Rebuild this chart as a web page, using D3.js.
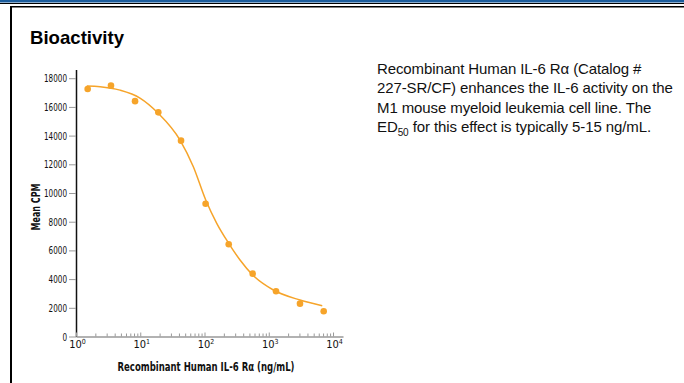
<!DOCTYPE html>
<meta charset="utf-8">
<script src="https://cdn.jsdelivr.net/npm/d3@7"></script>
<style>
body { margin: 0; background: #fff; }
.axis text { font-family: "Liberation Sans Narrow", "DejaVu Sans Condensed", sans-serif; font-size: 11px; fill: #111; }
.ytitle, .xtitle { font-family: "Liberation Sans Narrow", "DejaVu Sans Condensed", sans-serif; font-weight: bold; font-size: 13px; fill: #111; }
.desc { font-family: "Liberation Sans", Arial, sans-serif; font-size: 15px; fill: #111; }
</style>
<body>
<div id="chart"></div>
<script>
// ---- data ----
const conc = [1.52, 3.5, 8.3, 19.1, 43.1, 104, 238, 562, 1297, 3063, 7160];
const cpm  = [17250, 17480, 16400, 15620, 13650, 9250, 6430, 4380, 3150, 2290, 1760];

// fitted curve
const fitConc = [1.47, 2.37, 4.84, 9.9, 18.9, 41.6, 67, 104.5, 155, 238, 357, 562, 1178, 3063, 6800];
const fitCpm  = [17456, 17410, 17170, 16620, 15575, 13693, 11833, 9512, 7888, 6495, 5331, 4286, 3240, 2544, 2146];

const yTicks = [0, 2000, 4000, 6000, 8000, 10000, 12000, 14000, 16000, 18000];
const xDecades = [1, 10, 100, 1000, 10000];
const xExponents = ["0", "1", "2", "3", "4"];

const descLines = [
  "Recombinant Human IL-6 R\u03b1 (Catalog #",
  "227-SR/CF) enhances the IL-6 activity on the",
  "M1 mouse myeloid leukemia cell line. The"
];

const W = 684, H = 383;
const orange = "#f6a42a";

const svg = d3.select("#chart").append("svg")
  .attr("width", W).attr("height", H)
  .style("display", "block");

svg.append("rect").attr("width", W).attr("height", H).attr("fill", "#fff");

// ---- page frame ----
svg.append("rect").attr("x", 0).attr("y", 0).attr("width", W).attr("height", 2.5).attr("fill", "#1b5c9c");
svg.append("line").attr("x1", 0).attr("x2", W).attr("y1", 3.5).attr("y2", 3.5)
  .attr("stroke", "#000").attr("stroke-width", 1);
svg.append("line").attr("x1", 10).attr("x2", W).attr("y1", 6.8).attr("y2", 6.8)
  .attr("stroke", "#000").attr("stroke-width", 1.5);
svg.append("line").attr("x1", 11).attr("x2", 11).attr("y1", 6).attr("y2", H)
  .attr("stroke", "#000").attr("stroke-width", 2);

svg.append("text")
  .attr("x", 30).attr("y", 44)
  .style("font-family", "Liberation Sans, Arial, sans-serif")
  .style("font-weight", "bold").style("font-size", "18.6px")
  .text("Bioactivity");

// ---- scales ----
const x = d3.scaleLog().domain([1, 14300]).range([76, 343]);
const y = d3.scaleLinear().domain([0, 18600]).range([336.5, 69.6]);

// ---- y axis ----
const yAxis = svg.append("g")
  .attr("class", "axis")
  .attr("transform", "translate(76,0)")
  .call(d3.axisLeft(y).tickValues(yTicks).tickSize(7).tickSizeOuter(0).tickPadding(2)
    .tickFormat(d3.format("d")));
yAxis.select(".domain").attr("stroke", "#111").attr("stroke-width", 1.5);
yAxis.selectAll(".tick line").attr("stroke", "#999");
yAxis.selectAll(".tick text").attr("textLength", d => String(d).length * 4.6)
  .attr("lengthAdjust", "spacingAndGlyphs");

// ---- x axis ----
const minor = [];
xDecades.slice(0, 4).forEach(d => { for (let k = 2; k <= 9; k++) minor.push(d * k); });

const xAxis = svg.append("g")
  .attr("class", "axis")
  .attr("transform", "translate(0,336.5)")
  .call(d3.axisBottom(x).tickValues(minor).tickSize(-3).tickSizeOuter(0).tickFormat(""));
xAxis.select(".domain").attr("stroke", "#999").attr("stroke-width", 1.5);
xAxis.selectAll(".tick line").attr("stroke", "#999");

const xMajor = svg.append("g")
  .attr("class", "axis")
  .attr("transform", "translate(0,336.5)")
  .call(d3.axisBottom(x).tickValues(xDecades).tickSize(-4).tickSizeOuter(0).tickPadding(4)
    .tickFormat(""));
xMajor.select(".domain").remove();
xMajor.selectAll(".tick line").attr("stroke", "#999");
xMajor.selectAll(".tick text").each(function(d, i) {
  const t = d3.select(this).attr("dx", "1");
  t.append("tspan").text("10");
  t.append("tspan").attr("dy", "-4").style("font-size", "7px").text(xExponents[i]);
});

// ---- axis titles ----
svg.append("text")
  .attr("class", "xtitle")
  .attr("x", 206).attr("y", 371)
  .attr("text-anchor", "middle")
  .attr("textLength", 177)
  .attr("lengthAdjust", "spacingAndGlyphs")
  .text("Recombinant Human IL-6 R\u03b1 (ng/mL)");

svg.append("text")
  .attr("class", "ytitle")
  .attr("transform", "translate(40,207) rotate(-90)")
  .attr("text-anchor", "middle")
  .attr("textLength", 47)
  .attr("lengthAdjust", "spacingAndGlyphs")
  .text("Mean CPM");

// ---- curve & points ----
const line = d3.line()
  .x((d, i) => x(fitConc[i]))
  .y(d => y(d))
  .curve(d3.curveMonotoneX);

svg.append("path")
  .datum(fitCpm)
  .attr("fill", "none")
  .attr("stroke", orange)
  .attr("stroke-width", 1.5)
  .attr("d", line);

svg.selectAll("circle.pt")
  .data(cpm)
  .enter().append("circle")
  .attr("class", "pt")
  .attr("cx", (d, i) => x(conc[i]))
  .attr("cy", d => y(d))
  .attr("r", 3.3)
  .attr("fill", orange);

// ---- description ----
const desc = svg.append("g").attr("transform", "translate(377,74)");
desc.selectAll("text.desc")
  .data(descLines)
  .enter().append("text")
  .attr("class", "desc")
  .attr("y", (d, i) => i * 19.3)
  .style("letter-spacing", "-0.1px")
  .text(d => d);

const last = desc.append("text")
  .attr("class", "desc")
  .attr("y", 3 * 19.3)
  .style("letter-spacing", "-0.1px");
last.append("tspan").text("ED");
last.append("tspan").attr("dy", 4).style("font-size", "10px").text("50");
last.append("tspan").attr("dy", -4).text(" for this effect is typically 5-15 ng/mL.");
</script>
</body>
